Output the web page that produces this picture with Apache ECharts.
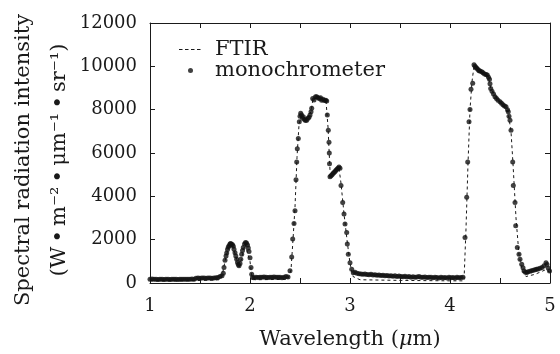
<!DOCTYPE html>
<html>
<head>
<meta charset="utf-8">
<script src="https://cdn.jsdelivr.net/npm/echarts@6/dist/echarts.min.js"></script>
<style>html,body{margin:0;padding:0;background:#fff;}#c{width:560px;height:354px;}</style>
</head>
<body>
<div id="c"></div>
<script>
// ---- data ----
const ftirWl = [1.00,1.30,1.46,1.70,1.72,1.75,1.78,1.80,1.83,1.86,1.89,1.92,1.95,1.97,2.00,2.02,2.05,2.38,2.41,2.43,2.45,2.47,2.49,2.51,2.56,2.61,2.63,2.70,2.76,2.78,2.80,2.83,2.89,2.91,2.94,2.97,3.00,3.03,3.10,3.50,4.00,4.14,4.16,4.18,4.20,4.22,4.24,4.30,4.38,4.41,4.50,4.58,4.61,4.63,4.66,4.69,4.72,4.76,4.85,4.95,5.00];
const ftirI  = [100,100,110,150,300,1000,1550,1750,1650,1200,700,1200,1800,1750,1000,250,150,170,600,2000,3500,5800,7300,7700,7600,7900,8500,8550,8400,7200,5200,5000,5300,4600,3200,2000,900,300,150,120,100,100,2500,5500,8000,9300,10000,9750,9550,8950,8350,7900,7000,5500,3000,1300,600,300,400,600,500];

const monoWl = [
1.00,1.02,1.04,1.06,1.08,1.10,1.12,1.14,1.16,1.18,1.20,1.22,1.24,1.26,1.28,1.30,1.32,1.34,1.36,1.38,1.40,1.42,1.44,1.46,1.48,1.50,1.52,1.54,1.56,1.58,1.60,1.62,1.64,1.66,1.68,1.70,
1.72,1.733,1.74,1.75,1.76,1.767,1.775,1.783,1.79,1.80,1.807,1.815,1.825,1.833,1.84,1.85,1.858,1.867,1.875,1.883,1.89,1.90,1.908,1.917,1.925,1.933,1.945,1.955,1.965,1.975,1.983,1.99,2.00,2.01,2.017,2.025,
2.04,2.06,2.08,2.10,2.12,2.14,2.16,2.18,2.20,2.22,2.24,2.26,2.28,2.30,2.32,2.34,2.36,2.38,
2.40,2.417,2.427,2.44,2.45,2.46,2.467,2.473,2.483,2.493,2.50,2.507,2.515,2.525,2.533,2.545,2.555,2.567,2.58,2.59,2.60,2.61,2.617,2.627,2.64,2.655,2.667,2.68,2.695,2.705,2.717,2.73,2.745,2.757,2.767,2.773,2.783,2.79,2.793,2.795,
2.80,2.81,2.82,2.83,2.84,2.85,2.86,2.87,2.88,2.89,2.90,
2.91,2.927,2.94,2.95,2.967,2.973,2.983,3.00,3.017,3.033,
3.05,3.07,3.09,3.11,3.13,3.15,3.17,3.19,3.21,3.23,3.25,3.27,3.29,3.31,3.33,3.35,3.37,3.39,3.41,3.43,3.45,3.47,3.49,3.51,3.53,3.55,3.57,3.59,3.61,3.63,3.65,3.67,3.69,3.71,3.73,3.75,3.77,3.79,3.81,3.83,3.85,3.87,3.89,3.91,3.93,3.95,3.97,3.99,4.01,4.03,4.05,4.07,4.09,4.11,4.13,
4.15,4.167,4.177,4.19,4.20,4.21,4.227,4.24,4.25,4.26,4.267,4.28,4.29,4.30,4.317,4.33,4.345,4.36,4.373,4.385,4.395,4.40,4.407,4.42,4.435,4.45,4.465,4.48,4.50,4.515,4.53,4.545,4.56,4.575,4.583,4.59,4.60,4.61,4.627,4.633,4.65,4.657,4.673,4.69,4.70,4.717,4.73,4.74,4.755,4.767,4.78,4.80,4.815,4.833,4.85,4.865,4.88,4.90,4.92,4.94,4.96,4.97,4.983,4.995];
const monoI = [
170,180,170,170,160,170,170,160,170,170,160,170,170,170,160,170,170,170,170,170,170,180,170,220,230,220,230,230,220,230,230,220,230,240,250,300,
330,450,710,1050,1250,1380,1550,1650,1720,1800,1820,1790,1760,1700,1560,1400,1250,1100,950,850,800,900,1100,1330,1500,1640,1800,1870,1850,1750,1620,1450,1170,710,400,250,
240,260,250,270,260,280,260,250,270,260,280,260,270,260,240,270,300,280,
560,1200,2030,2750,3340,4760,5580,6200,6670,7440,7700,7830,7750,7600,7670,7550,7500,7510,7600,7650,7750,7900,8060,8520,8450,8600,8600,8550,8500,8550,8440,8480,8420,8440,8400,7750,7050,6500,6000,5500,
4900,4950,5000,5050,5100,5150,5200,5250,5300,5350,5300,
4500,3720,3190,2720,2330,1800,1330,940,635,470,
500,450,430,420,400,420,390,380,400,370,380,360,370,350,360,330,350,320,340,310,330,300,320,300,290,310,280,300,270,290,260,280,300,270,260,280,250,270,260,240,260,250,230,260,240,250,230,260,240,250,230,260,240,250,260,
2100,3960,5580,7440,8010,8940,9220,10070,10000,9950,9910,9850,9800,9780,9750,9700,9650,9620,9600,9500,9400,9200,8980,8850,8720,8600,8520,8440,8360,8300,8230,8170,8130,8000,7900,7700,7510,7050,5580,4500,3720,2640,1640,1330,1100,870,700,556,500,490,520,540,560,590,610,630,650,680,720,800,940,850,680,556];

const xTicks = [1,2,3,4,5];
const yTicks = [0,2000,4000,6000,8000,10000,12000];

const ftirData = ftirWl.map((w,i)=>[w, ftirI[i]]);
const monoData = monoWl.map((w,i)=>[w, monoI[i]]);

const FONT = 'DejaVu Serif';
const INK = '#1a1a1a';
const TS = '\u2009';

const chart = echarts.init(document.getElementById('c'), null, {renderer:'canvas'});
const axLine = {show:true, onZero:false, lineStyle:{color:INK, width:1}};
const dashIcon = 'path://M0,0M23,10M0,4.5h3.5v1h-3.5zM6,4.5h3.5v1h-3.5zM12,4.5h3.5v1h-3.5zM18,4.5h3.5v1h-3.5z';
const dotIcon = 'path://M0,0M23,10M9,5a2.5,2.5 0 1 0 5,0a2.5,2.5 0 1 0 -5,0z';
chart.setOption({
  animation:false,
  backgroundColor:'#fff',
  grid:{left:150, right:10, top:23, bottom:71, containLabel:false, outerBoundsMode:'none'},
  legend:{
    orient:'vertical', left:179, top:39, padding:0, itemGap:0, itemWidth:23, itemHeight:10,
    symbolKeepAspect:false,
    textStyle:{fontFamily:FONT, fontSize:21, color:INK, lineHeight:21, padding:[0,0,0,8]},
    data:[{name:'FTIR', icon:dashIcon, itemStyle:{color:INK}},
          {name:'monochrometer', icon:dotIcon, itemStyle:{color:'#111'}}]
  },
  xAxis:[
    {type:'value', min:1, max:5, interval:0.5, position:'bottom',
     axisLine:axLine, axisTick:{inside:true, length:5, lineStyle:{color:INK}}, splitLine:{show:false},
     axisLabel:{margin:14, fontFamily:FONT, fontSize:18, color:INK,
       formatter:v=> xTicks.indexOf(v)>=0 ? String(v) : ''},
     name:'Wavelength ({i|μ}m)', nameLocation:'middle', nameGap:46, nameMoveOverlap:false,
     nameTextStyle:{fontFamily:FONT, fontSize:21, color:INK,
       rich:{i:{fontFamily:FONT, fontStyle:'italic', fontSize:21, color:INK}}}},
    {type:'value', min:1, max:5, interval:0.5, position:'top',
     axisLine:axLine, axisTick:{inside:true, length:5, lineStyle:{color:INK}}, splitLine:{show:false},
     axisLabel:{show:false}}
  ],
  yAxis:[
    {type:'value', min:0, max:12000, interval:2000, position:'left',
     axisLine:axLine, axisTick:{show:true, inside:true, length:5, lineStyle:{color:INK}}, splitLine:{show:false},
     axisLabel:{margin:13, fontFamily:FONT, fontSize:18, color:INK,
       formatter:v=> yTicks.indexOf(v)>=0 ? String(v) : ''},
     name:'Spectral radiation intensity\n(W' + TS + '•' + TS + 'm⁻²' + TS + '•' + TS + 'μm⁻¹' + TS + '•' + TS + 'sr⁻¹)',
     nameLocation:'middle', nameRotate:90, nameGap:72, nameMoveOverlap:false,
     nameTextStyle:{fontFamily:FONT, fontSize:21, color:INK, lineHeight:36, align:'center', padding:[0,14,0,0]}},
    {type:'value', min:0, max:12000, interval:2000, position:'right',
     axisLine:axLine, axisTick:{show:true, inside:true, length:5, lineStyle:{color:INK}}, splitLine:{show:false},
     axisLabel:{show:false}}
  ],
  series:[
    {name:'FTIR', type:'line', data:ftirData, symbol:'none', showSymbol:false,
     lineStyle:{color:INK, width:1, type:[3,3]}, itemStyle:{color:INK}, z:2},
    {name:'monochrometer', type:'scatter', data:monoData, symbol:'circle', symbolSize:5,
     itemStyle:{color:'#111'}, z:3}
  ]
});
</script>
</body>
</html>
